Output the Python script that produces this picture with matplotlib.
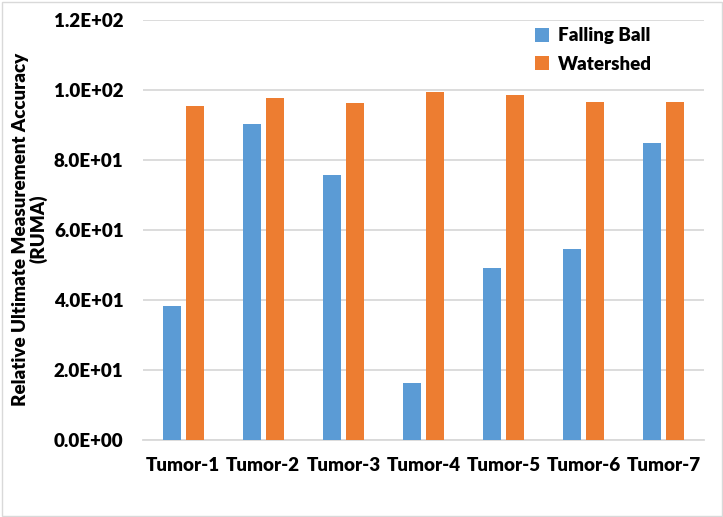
import numpy as np
import matplotlib
matplotlib.use('agg')
from matplotlib import pyplot as plt
from matplotlib.patches import Rectangle
from matplotlib.ticker import FuncFormatter

# values
tumors = ["Tumor-1", "Tumor-2", "Tumor-3", "Tumor-4", "Tumor-5", "Tumor-6", "Tumor-7"]
falling_ball = [38.3, 90.3, 75.7, 16.3, 49.1, 54.6, 84.9]
watershed = [95.4, 97.7, 96.3, 99.4, 98.6, 96.6, 96.6]
y_ticks = [0, 20, 40, 60, 80, 100, 120]

blue = '#5B9BD5'
orange = '#ED7D31'
grid_gray = '#D9D9D9'
weight = 'heavy'
fsize = 13.5

plt.rcParams['font.family'] = ['Lato', 'DejaVu Sans']
plt.rcParams['font.weight'] = weight

W, H = 723, 517
fig = plt.figure(figsize=(W / 100, H / 100), dpi=100)
ax = fig.add_axes([143 / W, 1 - 440 / H, (704 - 143) / W, (440 - 20) / H])

x = np.arange(len(tumors))
width = 0.225
offset = 0.144
ax.bar(x - offset, falling_ball, width, color=blue, label="Falling Ball", zorder=3)
ax.bar(x + offset, watershed, width, color=orange, label="Watershed", zorder=3)

ax.set_xlim(-0.5, len(tumors) - 0.5)
ax.set_ylim(0, 120)
ax.set_yticks(y_ticks)
ax.yaxis.set_major_formatter(FuncFormatter(lambda v, p: "{0:.1E}".format(v)))
ax.set_xticks(x)
ax.set_xticklabels(tumors)
ax.tick_params(axis='y', length=0, pad=14, labelsize=fsize)
ax.tick_params(axis='x', length=0, pad=12, labelsize=fsize)
for lbl in ax.get_xticklabels() + ax.get_yticklabels():
    lbl.set_fontweight(weight)

ax.grid(axis='y', color=grid_gray, linewidth=1.3, zorder=0)
for side in ('top', 'right', 'left'):
    ax.spines[side].set_visible(False)
ax.spines['bottom'].set_color(grid_gray)
ax.spines['bottom'].set_linewidth(1.3)

fig.text(30 / W, 1 - 229 / H, "Relative Ultimate Measurement Accuracy\n(RUMA)",
         rotation=90, ha='center', va='center', multialignment='center',
         fontsize=fsize, fontweight=weight, linespacing=1.05)

leg = ax.legend(loc='upper left', bbox_to_anchor=(526 / W, 1 - 18 / H),
                bbox_transform=fig.transFigure, frameon=False, fontsize=fsize,
                handlelength=0.7, handleheight=0.75, handletextpad=0.5,
                labelspacing=0.6, borderpad=0)
for t in leg.get_texts():
    t.set_fontweight(weight)

# light chart-area border like the spreadsheet chart
fig.patches.append(Rectangle((1.5 / W, 1.5 / H), (W - 3) / W, (H - 3) / H,
                             transform=fig.transFigure, fill=False,
                             edgecolor=grid_gray, linewidth=1))

fig.savefig('out.png', dpi=100)
